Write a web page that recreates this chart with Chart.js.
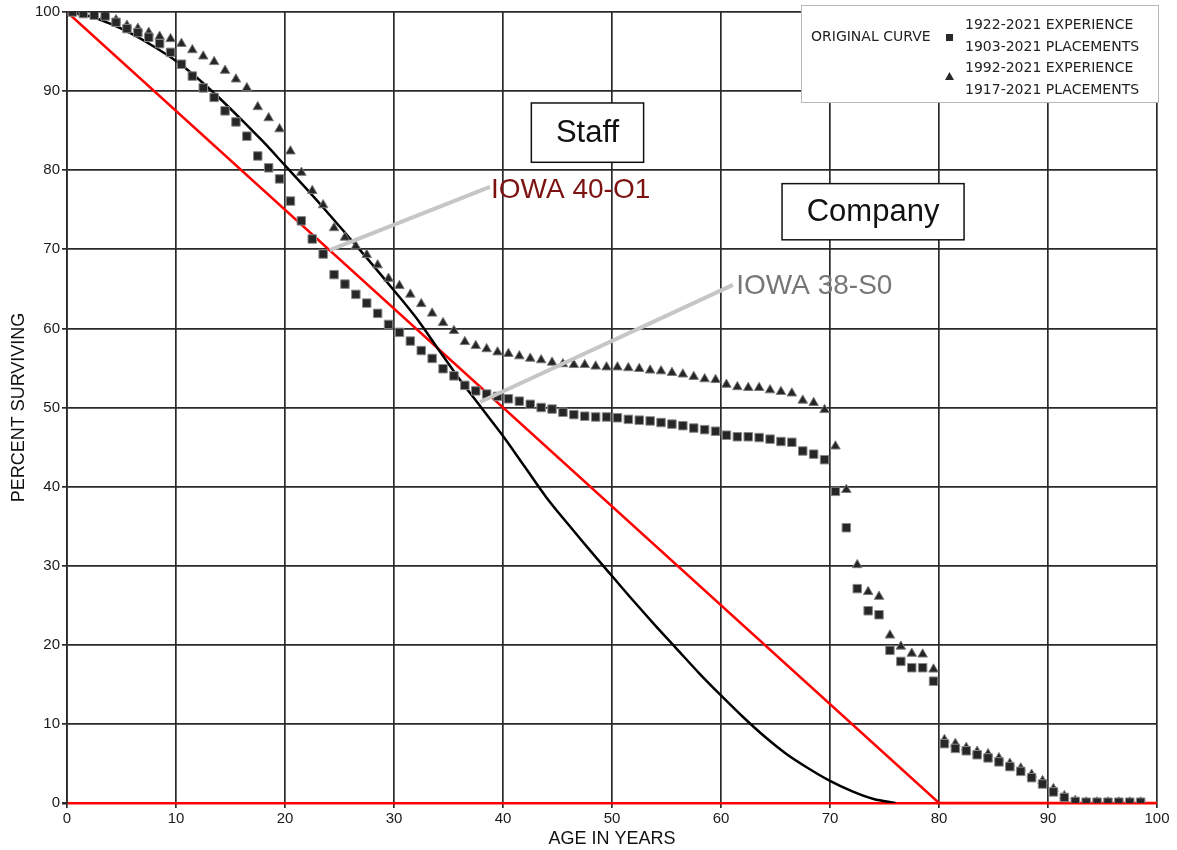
<!DOCTYPE html>
<html>
<head>
<meta charset="utf-8">
<script src="https://cdn.jsdelivr.net/npm/chart.js@4.4.1/dist/chart.umd.min.js"></script>
<style>
  html, body { margin: 0; padding: 0; background: #fff; }
</style>
</head>
<body>
<canvas id="survivorChart" width="1177" height="850"></canvas>
<script>
// Observed points, one per age interval midpoint
const ages = [
    0.5, 1.5, 2.5, 3.5, 4.5, 5.5, 6.5, 7.5, 8.5, 9.5,
    10.5, 11.5, 12.5, 13.5, 14.5, 15.5, 16.5, 17.5, 18.5, 19.5,
    20.5, 21.5, 22.5, 23.5, 24.5, 25.5, 26.5, 27.5, 28.5, 29.5,
    30.5, 31.5, 32.5, 33.5, 34.5, 35.5, 36.5, 37.5, 38.5, 39.5,
    40.5, 41.5, 42.5, 43.5, 44.5, 45.5, 46.5, 47.5, 48.5, 49.5,
    50.5, 51.5, 52.5, 53.5, 54.5, 55.5, 56.5, 57.5, 58.5, 59.5,
    60.5, 61.5, 62.5, 63.5, 64.5, 65.5, 66.5, 67.5, 68.5, 69.5,
    70.5, 71.5, 72.5, 73.5, 74.5, 75.5, 76.5, 77.5, 78.5, 79.5,
    80.5, 81.5, 82.5, 83.5, 84.5, 85.5, 86.5, 87.5, 88.5, 89.5,
    90.5, 91.5, 92.5, 93.5, 94.5, 95.5, 96.5, 97.5, 98.5
];

// 1922-2021 experience / 1903-2021 placements (squares)
const survivingFull = [
    100, 99.8, 99.6, 99.5, 98.7, 97.9, 97.4, 96.8, 96.0, 94.9,
    93.4, 91.9, 90.4, 89.2, 87.5, 86.1, 84.3, 81.8, 80.3, 78.9,
    76.1, 73.6, 71.3, 69.4, 66.8, 65.6, 64.3, 63.2, 61.9, 60.5,
    59.5, 58.4, 57.2, 56.2, 54.9, 54.0, 52.8, 52.1, 51.7, 51.4,
    51.1, 50.8, 50.4, 50.0, 49.8, 49.4, 49.1, 48.9, 48.8, 48.8,
    48.7, 48.5, 48.4, 48.3, 48.1, 47.9, 47.7, 47.4, 47.2, 47.0,
    46.5, 46.3, 46.3, 46.2, 46.0, 45.7, 45.6, 44.5, 44.1, 43.4,
    39.4, 34.8, 27.1, 24.3, 23.8, 19.3, 17.9, 17.1, 17.1, 15.4,
    7.5, 6.9, 6.6, 6.1, 5.7, 5.2, 4.6, 4.0, 3.2, 2.4,
    1.4, 0.7, 0.2, 0.1, 0.1, 0.1, 0.1, 0.1, 0.1
];

// 1992-2021 experience / 1917-2021 placements (triangles)
const survivingRecent = [
    100, 99.9, 99.7, 99.6, 99.0, 98.3, 97.9, 97.4, 96.9, 96.6,
    96.0, 95.2, 94.4, 93.7, 92.6, 91.5, 90.4, 88.0, 86.6, 85.2,
    82.4, 79.7, 77.4, 75.6, 72.7, 71.5, 70.4, 69.3, 68.0, 66.3,
    65.4, 64.3, 63.1, 61.9, 60.7, 59.7, 58.3, 57.8, 57.4, 57.0,
    56.8, 56.5, 56.2, 56.0, 55.7, 55.5, 55.4, 55.4, 55.2, 55.1,
    55.1, 55.0, 54.9, 54.7, 54.6, 54.4, 54.2, 53.9, 53.6, 53.5,
    52.9, 52.6, 52.5, 52.5, 52.2, 52.0, 51.8, 50.9, 50.6, 49.7,
    45.1, 39.6, 30.1, 26.7, 26.1, 21.2, 19.8, 18.9, 18.8, 16.9,
    8.0, 7.5, 7.0, 6.5, 6.2, 5.7, 5.0, 4.4, 3.6, 2.8,
    1.8, 0.9, 0.3, 0.1, 0.1, 0.1, 0.1, 0.1, 0.1
];

// Iowa 38-S0 curve (black)
const s0Ages = [
    0, 2, 4, 6, 8, 10, 12, 14, 16, 18, 20, 22, 24, 26, 28, 30, 32, 34, 36, 38,
    40, 42, 44, 46, 48, 50, 52, 54, 56, 58, 60, 62, 64, 66, 68, 70, 72, 74, 76
];
const s0Values = [
    100, 99.5, 98.5, 97.2, 95.6, 93.8, 91.6, 89.1, 86.4, 83.6, 80.6, 77.6, 74.5, 71.3, 68.1, 64.8, 61.4, 57.5, 53.6, 50,
    46.4, 42.5, 38.6, 35.2, 31.9, 28.7, 25.5, 22.4, 19.4, 16.4, 13.6, 10.9, 8.4, 6.2, 4.4, 2.8, 1.5, 0.5, 0
];

// Iowa 40-O1 curve (red)
const o1Ages = [0, 80, 100];
const o1Values = [100, 0, 0];

const xTicks = [0, 10, 20, 30, 40, 50, 60, 70, 80, 90, 100];
const yTicks = [0, 10, 20, 30, 40, 50, 60, 70, 80, 90, 100];

const legendRows = [
    ['1922-2021 EXPERIENCE', '1903-2021 PLACEMENTS'],
    ['1992-2021 EXPERIENCE', '1917-2021 PLACEMENTS']
];

function toPoints(xs, ys) {
    return xs.map((x, i) => ({ x: x, y: ys[i] }));
}

const GRID = '#2a2a2a';
const FONT = 'Liberation Sans, Arial, sans-serif';

// callouts, boxes and the legend box
const annotations = {
    id: 'annotations',
    afterDatasetsDraw(chart) {
        const ctx = chart.ctx;
        const xs = chart.scales.x, ys = chart.scales.y;
        const px = v => xs.getPixelForValue(v);
        const py = v => ys.getPixelForValue(v);
        ctx.save();

        // leader lines
        ctx.strokeStyle = '#c6c6c6';
        ctx.lineWidth = 4;
        ctx.beginPath();
        ctx.moveTo(px(24.1), py(69.9));
        ctx.lineTo(px(38.8), py(77.9));
        ctx.moveTo(px(37.9), py(50.7));
        ctx.lineTo(px(61.1), py(65.5));
        ctx.stroke();

        ctx.font = '28px ' + FONT;
        ctx.textBaseline = 'alphabetic';
        ctx.textAlign = 'left';
        ctx.fillStyle = '#7d1212';
        ctx.fillText('IOWA 40-O1', px(38.9), py(76.5));
        ctx.fillStyle = '#777777';
        ctx.fillText('IOWA 38-S0', px(61.4), py(64.3));

        // text boxes
        const boxes = [
            { text: 'Staff', x0: 42.6, x1: 52.9, y0: 88.5, y1: 81.0 },
            { text: 'Company', x0: 65.6, x1: 82.3, y0: 78.3, y1: 71.2 }
        ];
        ctx.font = '31px ' + FONT;
        ctx.textAlign = 'center';
        ctx.textBaseline = 'middle';
        boxes.forEach(b => {
            const l = px(b.x0), r = px(b.x1), t = py(b.y0), btm = py(b.y1);
            ctx.fillStyle = '#ffffff';
            ctx.fillRect(l, t, r - l, btm - t);
            ctx.strokeStyle = '#111';
            ctx.lineWidth = 1.5;
            ctx.strokeRect(l, t, r - l, btm - t);
            ctx.fillStyle = '#111';
            ctx.fillText(b.text, (l + r) / 2, (t + btm) / 2 + 1);
        });

        // legend box
        const lx = 801, ly = 5, lw = 357, lh = 97;
        ctx.fillStyle = '#ffffff';
        ctx.fillRect(lx, ly, lw, lh);
        ctx.strokeStyle = '#b8b8b8';
        ctx.lineWidth = 1;
        ctx.strokeRect(lx + 0.5, ly + 0.5, lw, lh);

        ctx.fillStyle = '#222';
        ctx.font = '14px DejaVu Sans, sans-serif';
        ctx.textAlign = 'left';
        ctx.textBaseline = 'middle';
        ctx.fillText('ORIGINAL CURVE', 811, 37);
        ctx.fillText(legendRows[0][0], 965, 25);
        ctx.fillText(legendRows[0][1], 965, 47);
        ctx.fillText(legendRows[1][0], 965, 68);
        ctx.fillText(legendRows[1][1], 965, 90);

        ctx.fillStyle = '#2a2a2a';
        ctx.fillRect(946, 34, 7, 7);
        ctx.beginPath();
        ctx.moveTo(949.5, 72);
        ctx.lineTo(954, 80);
        ctx.lineTo(945, 80);
        ctx.closePath();
        ctx.fill();

        ctx.restore();
    }
};

new Chart(document.getElementById('survivorChart'), {
    type: 'scatter',
    data: {
        datasets: [
            {
                label: 'IOWA 40-O1',
                data: toPoints(o1Ages, o1Values),
                showLine: true,
                borderColor: '#ff0000',
                borderWidth: 2.5,
                pointRadius: 0,
                order: 4
            },
            {
                label: 'IOWA 38-S0',
                data: toPoints(s0Ages, s0Values),
                showLine: true,
                borderColor: '#000000',
                borderWidth: 2.5,
                pointRadius: 0,
                cubicInterpolationMode: 'monotone',
                order: 3
            },
            {
                label: '1992-2021 EXPERIENCE',
                data: toPoints(ages, survivingRecent),
                pointStyle: 'triangle',
                pointRadius: 5.5,
                backgroundColor: '#262626',
                borderColor: '#7a7a7a',
                borderWidth: 1,
                order: 2
            },
            {
                label: '1922-2021 EXPERIENCE',
                data: toPoints(ages, survivingFull),
                pointStyle: 'rect',
                pointRadius: 6,
                backgroundColor: '#262626',
                borderColor: '#8a8a8a',
                borderWidth: 1,
                order: 1
            }
        ]
    },
    options: {
        responsive: false,
        animation: false,
        layout: { padding: { top: 12, right: 20, left: 0, bottom: 0 } },
        plugins: {
            legend: { display: false },
            tooltip: { enabled: false }
        },
        scales: {
            x: {
                type: 'linear',
                min: 0,
                max: 100,
                afterBuildTicks: axis => { axis.ticks = xTicks.map(v => ({ value: v })); },
                afterFit: axis => { axis.height = 47; },
                grid: { color: GRID, lineWidth: 1.7, tickLength: 5 },
                border: { display: false },
                ticks: { color: '#1a1a1a', font: { family: FONT, size: 15 }, padding: 2 },
                title: {
                    display: true,
                    text: 'AGE IN YEARS',
                    color: '#111',
                    font: { family: FONT, size: 18 },
                    padding: { top: 0, bottom: 0 }
                }
            },
            y: {
                type: 'linear',
                min: 0,
                max: 100,
                afterBuildTicks: axis => { axis.ticks = yTicks.map(v => ({ value: v })); },
                afterFit: axis => { axis.width = 67; },
                grid: {
                    color: c => (c.tick && c.tick.value === 0 ? '#ff0000' : GRID),
                    lineWidth: c => (c.tick && c.tick.value === 0 ? 2.5 : 1.7),
                    tickColor: GRID,
                    tickLength: 5
                },
                border: { display: true, color: GRID, width: 1.7 },
                ticks: { color: '#1a1a1a', font: { family: FONT, size: 15 }, padding: 2 },
                title: {
                    display: true,
                    text: 'PERCENT SURVIVING',
                    color: '#111',
                    font: { family: FONT, size: 18 },
                    padding: { top: 8, bottom: 0 }
                }
            }
        }
    },
    plugins: [annotations]
});
</script>
</body>
</html>
